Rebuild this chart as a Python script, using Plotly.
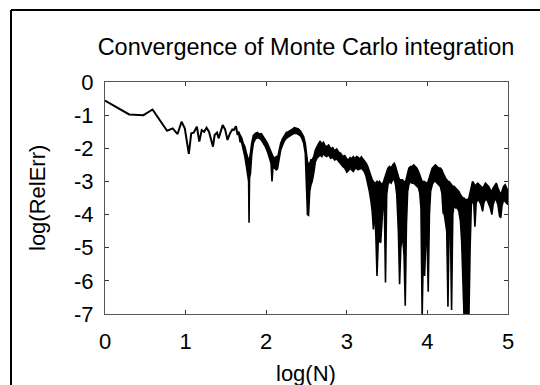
import plotly.graph_objects as go

# ---- data: early single-line part (log N, log RelErr) ----
line_x = [0.0, 0.30, 0.477, 0.59, 0.77, 0.84, 0.90, 0.95, 0.99, 1.04, 1.07, 1.10, 1.14, 1.17,
          1.20, 1.23, 1.26, 1.29, 1.34, 1.36, 1.39, 1.41, 1.46, 1.49, 1.52, 1.55, 1.58, 1.60,
          1.625, 1.645, 1.655]
line_y = [-0.56, -0.98, -1.00, -0.83, -1.47, -1.40, -1.57, -1.20, -1.40, -2.17, -1.55, -1.53, -1.35, -1.80,
          -1.45, -1.50, -1.38, -1.50, -1.95, -1.60, -1.53, -1.70, -1.30, -1.43, -1.75, -1.55, -1.43, -1.45,
          -1.33, -1.60, -1.50]

# ---- data: dense noisy part, upper and lower envelope ----
band_x = [1.655, 1.675, 1.695, 1.715, 1.735, 1.755, 1.772, 1.782, 1.787, 1.793, 1.805, 1.820, 1.840, 1.865,
          1.890, 1.915, 1.940, 1.965, 1.990, 2.015, 2.040, 2.060, 2.072, 2.085, 2.105, 2.125, 2.140, 2.160,
          2.180, 2.200, 2.225, 2.250, 2.275, 2.300, 2.325, 2.350, 2.375, 2.400, 2.425, 2.445, 2.465, 2.485,
          2.500, 2.512, 2.525, 2.540, 2.555, 2.570, 2.590, 2.610, 2.630, 2.650, 2.670, 2.690, 2.710, 2.730,
          2.750, 2.775, 2.800, 2.825, 2.850, 2.875, 2.900, 2.925, 2.950, 2.975, 3.000, 3.020, 3.040, 3.060,
          3.080, 3.100, 3.120, 3.140, 3.160, 3.180, 3.200, 3.220, 3.240, 3.260, 3.280, 3.300, 3.315, 3.330,
          3.345, 3.360, 3.375, 3.390, 3.405, 3.420, 3.435, 3.450, 3.465, 3.480, 3.495, 3.510, 3.530, 3.550,
          3.570, 3.590, 3.605, 3.620, 3.640, 3.655, 3.670, 3.690, 3.710, 3.725, 3.740, 3.755, 3.770, 3.790,
          3.810, 3.830, 3.850, 3.870, 3.890, 3.905, 3.920, 3.935, 3.950, 3.965, 3.980, 3.995, 4.010, 4.025,
          4.040, 4.060, 4.080, 4.100, 4.120, 4.140, 4.160, 4.180, 4.195, 4.210, 4.225, 4.240, 4.255, 4.270,
          4.285, 4.300, 4.315, 4.330, 4.350, 4.370, 4.390, 4.410, 4.425, 4.440, 4.455, 4.470, 4.485, 4.500,
          4.515, 4.530, 4.545, 4.560, 4.575, 4.590, 4.605, 4.625, 4.645, 4.665, 4.685, 4.700, 4.720, 4.740,
          4.760, 4.780, 4.800, 4.815, 4.835, 4.855, 4.875, 4.895, 4.910, 4.925, 4.945, 4.965, 4.985, 5.000]
band_hi = [-1.50, -1.60, -1.68, -1.85, -1.95, -2.15, -2.30, -2.40, -2.40, -2.35, -2.10, -1.85, -1.62, -1.55,
           -1.52, -1.57, -1.56, -1.68, -1.75, -1.85, -2.00, -2.15, -2.20, -2.25, -2.30, -2.25, -2.30, -2.05,
           -1.85, -1.72, -1.60, -1.52, -1.50, -1.45, -1.42, -1.38, -1.40, -1.42, -1.48, -1.55, -1.65, -1.85,
           -2.20, -2.40, -2.50, -2.45, -2.35, -2.35, -2.25, -2.05, -1.95, -1.85, -1.78, -1.88, -1.82, -1.92,
           -1.95, -1.90, -2.02, -1.98, -2.08, -2.02, -2.12, -2.15, -2.25, -2.22, -2.32, -2.35, -2.28, -2.32,
           -2.25, -2.32, -2.25, -2.27, -2.33, -2.26, -2.32, -2.38, -2.45, -2.55, -2.70, -2.85, -2.95, -3.00,
           -3.05, -3.05, -3.00, -3.05, -3.00, -3.05, -3.10, -3.05, -2.95, -2.85, -2.75, -2.60, -2.55, -2.60,
           -2.50, -2.45, -2.55, -2.70, -2.85, -2.95, -2.95, -2.95, -3.00, -3.05, -2.90, -2.70, -2.60, -2.55,
           -2.55, -2.50, -2.55, -2.60, -2.70, -2.80, -2.90, -3.00, -3.00, -3.00, -3.05, -3.05, -3.00, -2.90,
           -2.75, -2.60, -2.55, -2.50, -2.55, -2.60, -2.60, -2.65, -2.75, -2.85, -2.90, -2.95, -3.00, -3.00,
           -3.05, -3.10, -3.15, -3.15, -3.20, -3.25, -3.30, -3.40, -3.45, -3.50, -3.50, -3.55, -3.55, -3.55,
           -3.50, -3.30, -3.10, -3.00, -3.05, -3.15, -3.10, -3.05, -3.10, -3.15, -3.20, -3.15, -3.05, -3.10,
           -3.15, -3.25, -3.30, -3.20, -3.10, -3.05, -3.20, -3.35, -3.40, -3.30, -3.15, -3.10, -3.20, -3.30]
band_lo = [-1.50, -1.80, -1.82, -2.00, -2.25, -2.55, -2.90, -3.00, -4.25, -2.90, -2.75, -2.20, -1.85, -1.72,
           -1.68, -1.70, -1.75, -1.85, -1.95, -2.10, -2.30, -2.45, -3.00, -2.55, -2.60, -2.65, -2.62, -2.35,
           -2.05, -1.92, -1.78, -1.70, -1.65, -1.62, -1.58, -1.55, -1.55, -1.58, -1.62, -1.72, -1.85, -2.15,
           -3.20, -4.00, -4.02, -3.30, -3.10, -3.00, -2.75, -2.40, -2.30, -2.25, -2.20, -2.25, -2.15, -2.22,
           -2.25, -2.20, -2.30, -2.28, -2.35, -2.32, -2.40, -2.45, -2.55, -2.60, -2.72, -2.68, -2.60, -2.65,
           -2.70, -2.62, -2.60, -2.65, -2.62, -2.60, -2.65, -2.72, -2.85, -3.05, -3.30, -3.60, -3.90, -4.45,
           -3.80, -4.60, -5.85, -4.80, -4.80, -4.85, -4.20, -3.70, -3.60, -6.05, -3.40, -3.10, -3.00, -3.05,
           -2.95, -2.95, -3.10, -3.40, -4.50, -6.10, -5.00, -4.60, -5.20, -6.75, -4.30, -3.30, -3.10, -3.00,
           -3.05, -3.05, -3.10, -3.15, -3.20, -3.35, -3.80, -7.10, -5.00, -5.85, -4.80, -4.60, -6.33, -4.00,
           -3.30, -3.10, -3.00, -3.00, -3.05, -3.10, -3.15, -3.35, -3.95, -4.00, -4.30, -4.50, -6.78, -4.20,
           -4.30, -6.88, -4.00, -3.70, -3.80, -3.80, -3.90, -4.20, -4.80, -6.00, -7.10, -7.10, -7.10, -7.10,
           -7.10, -5.00, -3.70, -3.60, -3.65, -4.37, -3.65, -3.55, -3.60, -3.70, -3.90, -3.65, -3.55, -3.55,
           -3.65, -3.80, -4.00, -3.70, -3.55, -3.55, -3.70, -4.05, -4.10, -3.75, -3.55, -3.60, -3.65, -3.70]

x_ticks = [0, 1, 2, 3, 4, 5]
y_ticks = [0, -1, -2, -3, -4, -5, -6, -7]

FONT = "Liberation Sans, Arial, sans-serif"
W, H = 540, 385
L, R, T, B = 105, 32, 82, 71

fig = go.Figure()
fig.add_trace(go.Scatter(x=line_x, y=line_y, mode="lines",
                         line=dict(color="black", width=2), showlegend=False))
fig.add_trace(go.Scatter(x=band_x, y=band_lo, mode="lines",
                         line=dict(color="black", width=1.6), showlegend=False))
fig.add_trace(go.Scatter(x=band_x, y=band_hi, mode="lines", fill="tonexty",
                         fillcolor="black",
                         line=dict(color="black", width=1.6), showlegend=False))

axis_common = dict(showgrid=False, zeroline=False, showline=True, linecolor="#555",
                   linewidth=1, mirror="ticks", ticks="inside", ticklen=4,
                   tickcolor="#333", tickfont=dict(family=FONT, size=22, color="black"))

fig.update_xaxes(range=[0, 5], tickvals=x_ticks, ticktext=[str(v) for v in x_ticks],
                 ticklabelstandoff=8, **axis_common)
fig.update_yaxes(range=[-7, 0], tickvals=y_ticks, ticktext=[str(v) for v in y_ticks],
                 ticklabelstandoff=6, **axis_common)

# axis titles placed as annotations
fig.add_annotation(text="log(N)", xref="paper", yref="paper",
                   x=(306 - L) / (W - L - R), y=(H - B - 373) / (H - T - B),
                   xanchor="center", yanchor="middle", showarrow=False,
                   font=dict(family=FONT, size=22, color="black"))
fig.add_annotation(text="log(RelErr)", xref="paper", yref="paper",
                   x=(37 - L) / (W - L - R), y=0.5, textangle=-90,
                   xanchor="center", yanchor="middle", showarrow=False,
                   font=dict(family=FONT, size=22, color="black"))

# outer frame (left and top edges visible in the crop)
px = lambda p: (p - L) / (W - L - R)
py = lambda p: (H - B - p) / (H - T - B)
fig.add_shape(type="line", xref="paper", yref="paper", x0=px(11), x1=px(560), y0=py(10), y1=py(10),
              line=dict(color="black", width=2))
fig.add_shape(type="line", xref="paper", yref="paper", x0=px(11), x1=px(11), y0=py(10), y1=py(400),
              line=dict(color="black", width=2))

fig.update_layout(
    width=W, height=H,
    margin=dict(l=L, r=R, t=T, b=B),
    paper_bgcolor="white", plot_bgcolor="white",
    title=dict(text="Convergence of Monte Carlo integration", x=306 / W, xanchor="center",
               y=1 - 47 / H, yanchor="middle", font=dict(family=FONT, size=23.5, color="black")),
    font=dict(family=FONT, color="black"),
)

fig.write_html("out.html")
